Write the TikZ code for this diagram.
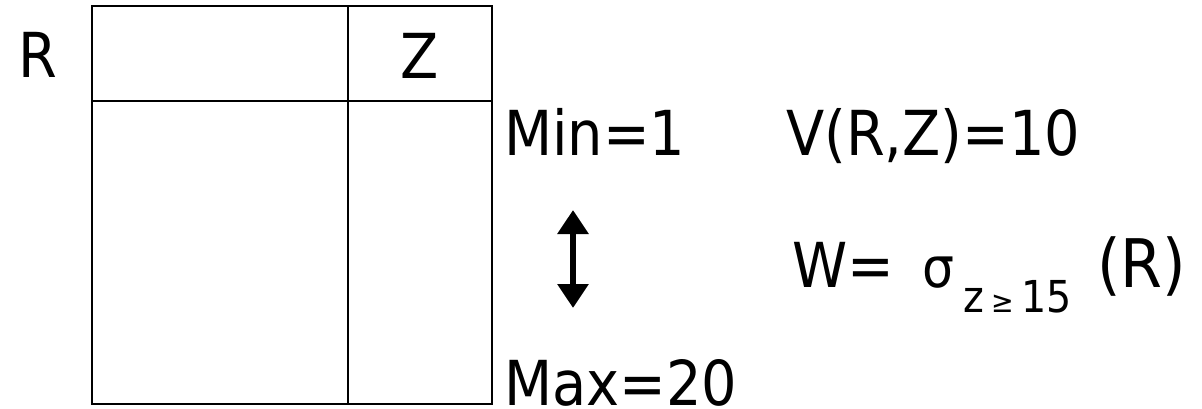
\documentclass[tikz,border=0pt]{standalone}
\usepackage{fontspec}
\setmainfont{DejaVu Sans Condensed}
\usetikzlibrary{arrows.meta}
\tikzset{
  big/.style={inner sep=0pt, font=\fontsize{62}{70}\selectfont},
  sigf/.style={inner sep=0pt, font=\fontsize{56}{60}\selectfont},
  subf/.style={inner sep=0pt, font=\fontsize{44}{50}\selectfont},
  tbl/.style={line width=2pt},
  dbl/.style={line width=6pt, {Triangle[width=30pt,length=24pt]}-{Triangle[width=30pt,length=24pt]}}
}
\begin{document}
\begin{tikzpicture}[x=1pt,y=-1pt]
\useasboundingbox (0,0) rectangle (1202,409);
% table
\draw[tbl] (92,6) rectangle (492,404);
\draw[tbl] (92,101) -- (492,101);
\draw[tbl] (348,6) -- (348,404);
\node[big, anchor=base] (R) at (38,78) {R};
\node[big, anchor=base] (Z) at (420,79) {Z};
\node[big, anchor=base west] (min) at (504,156) {Min=1};
\node[big, anchor=base west] (max) at (504,405) {Max=20};
\node[big, anchor=base west] (v) at (786,156) {V(R,Z)=10};
\node[big, anchor=base west] (w) at (792,287) {W=};
\node[sigf, anchor=base west] (sig) at (922,287) {σ};
\node[subf, anchor=base west] (sub) at (963,312) {z\,{\fontsize{30}{34}\selectfont ≥}\,15};
\node[big, anchor=base west, font=\fontsize{67}{70}\selectfont] (rr) at (1097,287) {(R)};
\coordinate (atop) at (573,210);
\coordinate (abot) at (573,308);
\draw[dbl] (atop) -- (abot);
\end{tikzpicture}
\end{document}
